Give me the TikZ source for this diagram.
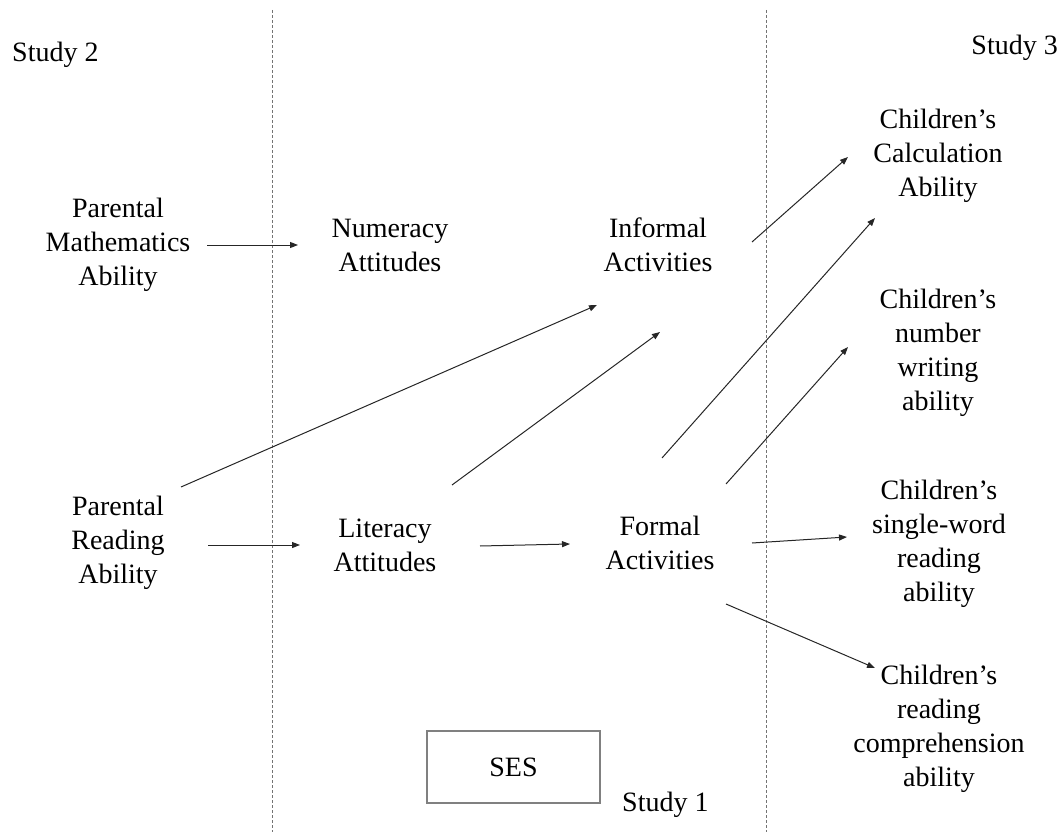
\documentclass[tikz,border=0pt]{standalone}
\usepackage{fontspec}
\setmainfont{Liberation Serif}
\usetikzlibrary{arrows.meta,calc}
\begin{document}
\begin{tikzpicture}[x=1pt,y=-1pt,
  every node/.style={font=\fontsize{28}{34}\selectfont, align=center, inner sep=0pt},
  conn/.style={draw=black!85, line width=1pt, -{Triangle[length=8pt,width=6pt]}},
  sep/.style={draw=black!55, line width=1pt, dash pattern=on 3pt off 2pt},
  sesbox/.style={draw=black!50, line width=1.5pt, minimum width=173pt, minimum height=72pt}]
\path[use as bounding box] (0,0) rectangle (1061,832);
% separators
\coordinate (s1t) at (272,10); \coordinate (s1b) at (272,832);
\coordinate (s2t) at (766,10); \coordinate (s2b) at (766,832);
\draw[sep] (s1t) -- (s1b);
\draw[sep] (s2t) -- (s2b);
% study labels
\node[anchor=west] (st2) at (12,55) {Study 2};
\node[anchor=east] (st3) at (1058,48) {Study 3};
\node[anchor=west] (st1) at (622,805) {Study 1};
% nodes
\node (pma) at (118,245) {Parental\\Mathematics\\Ability};
\node (num) at (390,245) {Numeracy\\Attitudes};
\node (inf) at (658,245) {Informal\\Activities};
\node (calc) at (938,156) {Children's\\Calculation\\Ability};
\node (nwrite) at (938,353) {Children's\\number\\writing\\ability};
\node (prd) at (118,543) {Parental\\Reading\\Ability};
\node (lit) at (385,545) {Literacy\\Attitudes};
\node (form) at (660,543) {Formal\\Activities};
\node (sword) at (939,544) {Children's\\single-word\\reading\\ability};
\node (comp) at (939,729) {Children's\\reading\\comprehension\\ability};
\node[sesbox] (ses) at (513.5,767) {SES};
% connectors
\draw[conn] ($(pma)+(89,0)$) -- ($(num)+(-92,0)$);
\draw[conn] ($(prd)+(90,2)$) -- ($(lit)+(-85,0)$);
\draw[conn] ($(prd)+(63,-56)$) -- ($(inf)+(-61,60)$);
\draw[conn] ($(lit)+(67,-60)$) -- ($(inf)+(2,87)$);
\draw[conn] ($(lit)+(95,1)$) -- ($(form)+(-90,1)$);
\draw[conn] ($(inf)+(94,-3)$) -- ($(calc)+(-90,1)$);
\draw[conn] ($(form)+(2,-85)$) -- ($(calc)+(-63,62)$);
\draw[conn] ($(form)+(66,-59)$) -- ($(nwrite)+(-90,-6)$);
\draw[conn] ($(form)+(92,0)$) -- ($(sword)+(-92,-7)$);
\draw[conn] ($(form)+(66,61)$) -- ($(comp)+(-64,-61)$);
\end{tikzpicture}
\end{document}
